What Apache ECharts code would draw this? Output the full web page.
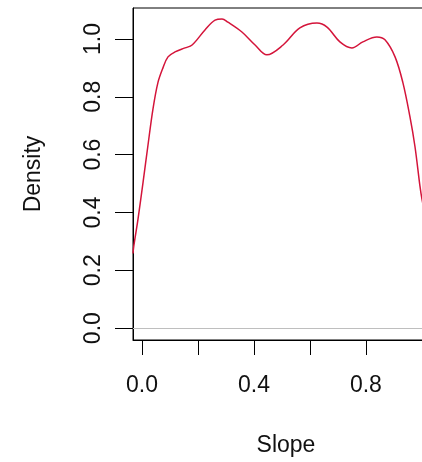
<!DOCTYPE html>
<html>
<head>
<meta charset="utf-8">
<script src="https://cdn.jsdelivr.net/npm/echarts@6/dist/echarts.min.js"></script>
<style>
  html, body { margin: 0; padding: 0; overflow: hidden; background: #fff; }
  #chart { width: 470px; height: 462px; }
</style>
</head>
<body>
<div id="chart"></div>
<script>
// slope density estimate
const slopeX = [-0.032, -0.029, -0.014, 0.004, 0.021, 0.039, 0.057, 0.075, 0.093, 0.118, 0.154, 0.179, 0.225, 0.261, 0.286, 0.307, 0.357, 0.404, 0.446, 0.504, 0.564, 0.625, 0.661, 0.707, 0.75, 0.789, 0.839, 0.868, 0.904, 0.932, 0.957, 0.975, 0.993, 1.0, 1.03];
const densityY = [0.258, 0.285, 0.378, 0.505, 0.629, 0.756, 0.849, 0.9, 0.938, 0.955, 0.969, 0.979, 1.031, 1.065, 1.069, 1.058, 1.024, 0.979, 0.945, 0.979, 1.038, 1.055, 1.041, 0.99, 0.969, 0.99, 1.007, 0.997, 0.938, 0.849, 0.732, 0.629, 0.491, 0.447, 0.3];
const yTicks = [0, 0.2, 0.4, 0.6, 0.8, 1.0];
const xTicks = [0, 0.2, 0.4, 0.6, 0.8, 1.0];
const xLabels = [0, 0.4, 0.8];

let chart = echarts.init(document.getElementById("chart"));
let font = "Liberation Sans";
let option = {
  animation: false,
  grid: {
    left: 133,
    top: 8,
    width: 306,
    height: 334,
    show: true,
    borderColor: "#000",
    borderWidth: 1,
  },
  xAxis: {
    type: "value",
    min: -0.032,
    max: 1.061,
    name: "Slope",
    nameLocation: "middle",
    nameGap: 94,
    nameTextStyle: { fontFamily: font, fontSize: 23, color: "#111" },
    axisLine: { show: true, onZero: false, lineStyle: { color: "#000" } },
    axisTick: { show: true, length: 15, customValues: xTicks, lineStyle: { color: "#000" } },
    axisLabel: {
      customValues: xLabels,
      margin: 34,
      fontFamily: font,
      fontSize: 23,
      color: "#111",
      formatter: (v) => v.toFixed(1),
    },
    splitLine: { show: false },
  },
  yAxis: {
    type: "value",
    min: -0.041,
    max: 1.107,
    name: "Density",
    nameLocation: "middle",
    nameGap: 88,
    nameRotate: 90,
    nameTextStyle: { fontFamily: font, fontSize: 23, color: "#111" },
    axisLine: { show: true, onZero: false, lineStyle: { color: "#000" } },
    axisTick: { show: true, length: 18, customValues: yTicks, lineStyle: { color: "#000" } },
    axisLabel: {
      customValues: yTicks,
      rotate: 90,
      margin: 28,
      fontFamily: font,
      fontSize: 23,
      color: "#111",
      formatter: (v) => v.toFixed(1),
    },
    splitLine: { show: false },
  },
  series: [
    {
      type: "line",
      data: slopeX.map((x, i) => [x, densityY[i]]),
      smooth: 0.35,
      showSymbol: false,
      lineStyle: { color: "#d4143a", width: 1.5 },
      markLine: {
        silent: true,
        symbol: "none",
        label: { show: false },
        lineStyle: { color: "#bebebe", type: "solid", width: 1 },
        data: [{ yAxis: 0 }],
      },
    },
  ],
};
chart.setOption(option);
</script>
</body>
</html>
